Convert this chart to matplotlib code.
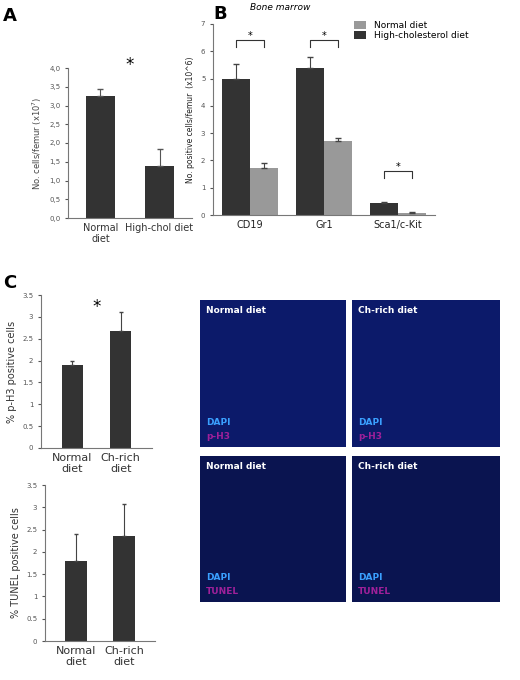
import matplotlib
matplotlib.use("Agg")
import matplotlib.pyplot as plt

W, H = 520, 680
fig = plt.figure(figsize=(5.2, 6.8), dpi=100)

def ax_px(x0, y0, x1, y1):
    return fig.add_axes([x0 / W, 1 - y1 / H, (x1 - x0) / W, (y1 - y0) / H])

DARK = "#333333"
LIGHT = "#999999"
TICKC = "#555555"

# Panel A
a_cats = ["Normal\ndiet", "High-chol diet"]
a_vals = [3.25, 1.4]
a_err = [0.2, 0.45]
# Panel B
b_cats = ["CD19", "Gr1", "Sca1/c-Kit"]
b_high = [4.97, 5.4, 0.43]
b_high_err = [0.58, 0.4, 0.03]
b_norm = [1.72, 2.72, 0.08]
b_norm_err = [0.18, 0.12, 0.03]
# Panel C
c_cats = ["Normal\ndiet", "Ch-rich\ndiet"]
c_ph3 = [1.9, 2.67]
c_ph3_err = [0.1, 0.43]
c_tunel = [1.8, 2.35]
c_tunel_err = [0.6, 0.72]
c_ticks = [0, 0.5, 1, 1.5, 2, 2.5, 3, 3.5]
c_ticklabels = ["0", "0.5", "1", "1.5", "2", "2.5", "3", "3.5"]

def style(ax):
    for s in ["top", "right"]:
        ax.spines[s].set_visible(False)
    for s in ["left", "bottom"]:
        ax.spines[s].set_color("#777777")
    ax.tick_params(colors=TICKC, length=2, labelsize=5)
    ax.tick_params(axis="x", length=0)

# ---- A
ax = ax_px(68, 68, 192, 218)
style(ax)
ax.bar([0, 1], a_vals, width=0.5, color=DARK, yerr=[[0, 0], a_err],
       error_kw=dict(ecolor="#555555", elinewidth=0.8, capsize=2))
ax.set_xlim(-0.55, 1.55); ax.set_ylim(0, 4.0)
ax.set_yticks([0, 0.5, 1, 1.5, 2, 2.5, 3, 3.5, 4])
ax.set_yticklabels(["0,0", "0,5", "1,0", "1,5", "2,0", "2,5", "3,0", "3,5", "4,0"])
ax.set_xticks([0, 1]); ax.set_xticklabels(a_cats, fontsize=7, color="#333333")
ax.set_ylabel("No. cells/femur (x10$^7$)", fontsize=6, color="#444444")
ax.text(0.5, 3.95, "*", ha="center", fontsize=12)
fig.text(3 / W, 1 - 16 / H, "A", fontsize=13, fontweight="bold", va="center")

# ---- B
ax = ax_px(213, 24, 435, 215)
style(ax)
x = range(len(b_cats))
w = 0.38
ax.bar([i - w / 2 for i in x], b_high, width=w, color=DARK, yerr=[[0] * 3, b_high_err],
       error_kw=dict(ecolor="#444444", elinewidth=0.8, capsize=2), label="High-cholesterol diet")
ax.bar([i + w / 2 for i in x], b_norm, width=w, color=LIGHT, yerr=[[0] * 3, b_norm_err],
       error_kw=dict(ecolor="#444444", elinewidth=0.8, capsize=2), label="Normal diet")
ax.set_xlim(-0.5, 2.5); ax.set_ylim(0, 7)
ax.set_yticks(range(8))
ax.set_xticks(list(x)); ax.set_xticklabels(b_cats, fontsize=7, color="#222222")
ax.set_ylabel("No. positive cells/femur  (x10^6)", fontsize=5.5, color="#222222")
for i, top in zip(x, [6.4, 6.4, 1.6]):
    ax.plot([i - w / 2, i - w / 2, i + w / 2, i + w / 2], [top - 0.25, top, top, top - 0.25],
            color="#333333", lw=0.8)
    ax.text(i, top + 0.05, "*", ha="center", fontsize=7)
h, l = ax.get_legend_handles_labels()
ax.legend(h[::-1], l[::-1], loc="upper right", bbox_to_anchor=(1.17, 1.04), fontsize=6.5,
          frameon=False, handlelength=1.4, handleheight=0.9, labelspacing=0.15, borderpad=0)
fig.text(280 / W, 1 - 7 / H, "Bone marrow", fontsize=6.5, style="italic", ha="center", va="center")
fig.text(213 / W, 1 - 14 / H, "B", fontsize=13, fontweight="bold", va="center")

# ---- C
def cplot(box, vals, err, ylabel, star):
    ax = ax_px(*box)
    style(ax)
    ax.bar([0, 1], vals, width=0.45, color=DARK, yerr=[[0, 0], err],
           error_kw=dict(ecolor="#444444", elinewidth=0.8, capsize=1.5))
    ax.set_xlim(-0.65, 1.65); ax.set_ylim(0, 3.5)
    ax.set_yticks(c_ticks); ax.set_yticklabels(c_ticklabels)
    ax.set_xticks([0, 1]); ax.set_xticklabels(c_cats, fontsize=8, color="#333333")
    ax.set_ylabel(ylabel, fontsize=7, color="#333333")
    if star:
        ax.text(0.5, 3.1, "*", ha="center", fontsize=12)

cplot((41, 295, 152, 448), c_ph3, c_ph3_err, "% p-H3 positive cells", True)
cplot((45, 485, 155, 641), c_tunel, c_tunel_err, "% TUNEL positive cells", False)
fig.text(3 / W, 1 - 283 / H, "C", fontsize=13, fontweight="bold", va="center")

# ---- Micrograph placeholders
panels = [((200, 300, 346, 447), "Normal diet", "p-H3", "#0c1a6a"),
          ((352, 300, 500, 447), "Ch-rich diet", "p-H3", "#0c1a6a"),
          ((200, 456, 346, 602), "Normal diet", "TUNEL", "#0a1450"),
          ((352, 456, 500, 602), "Ch-rich diet", "TUNEL", "#0a1450")]
for box, title, marker, col in panels:
    ax = ax_px(*box)
    ax.set_facecolor(col)
    ax.set_xticks([]); ax.set_yticks([])
    for s in ax.spines.values():
        s.set_visible(False)
    ax.text(0.04, 0.96, title, transform=ax.transAxes, color="white", fontsize=6.5,
            fontweight="bold", va="top")
    ax.text(0.04, 0.2, "DAPI", transform=ax.transAxes, color="#3aa0ff", fontsize=6.5,
            fontweight="bold", va="top")
    ax.text(0.04, 0.1, marker, transform=ax.transAxes, color="#a0209a", fontsize=6.5,
            fontweight="bold", va="top")

fig.savefig("out.png", dpi=100)
